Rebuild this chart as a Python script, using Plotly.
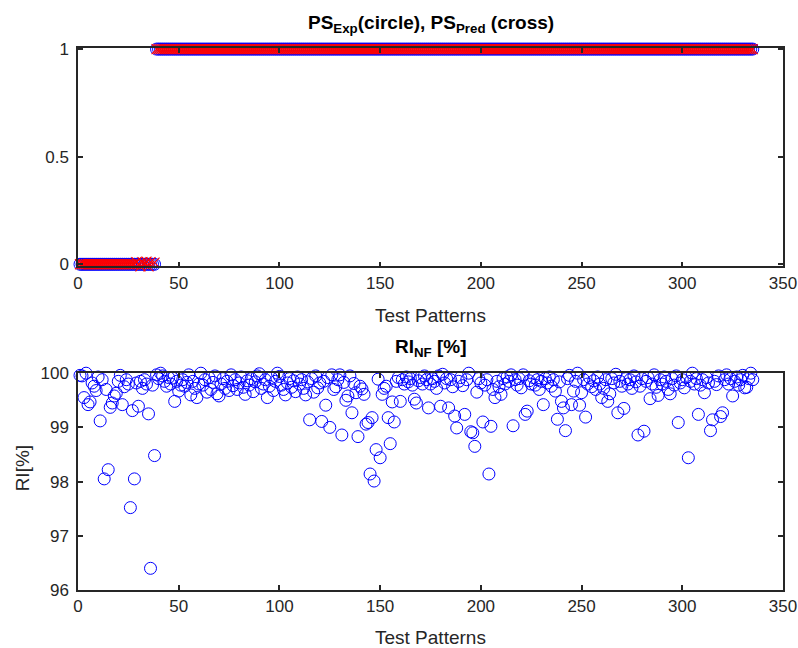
import plotly.graph_objects as go

# ---------------- data ----------------
patterns = list(range(1, 336))

ps_exp = [0] * 38 + [1] * 297

ps_pred = ([0] * 28 + [0.01, 0, -0.01, 0.01, 0, 0.012, -0.01, 0.01, -0.012, 0.008]
           + [1] * 297)

ri_nf = [
    99.96, 99.95, 99.55, 100.0, 99.42, 99.47, 99.82, 99.76, 99.68, 99.93,
    99.12, 99.88, 98.05, 99.70, 98.22, 99.37, 99.45, 99.58, 99.63, 99.85,
    99.96, 99.42, 99.75, 99.88, 99.80, 97.52, 99.31, 98.05, 99.82, 99.39,
    99.85, 99.72, 99.88, 99.80, 99.25, 96.40, 99.78, 98.48, 99.97, 99.90,
    100.0, 99.95, 99.85, 99.76, 99.92, 99.80, 99.91, 99.48, 99.85, 99.67,
    99.78, 99.88, 99.76, 99.83, 99.97, 99.60, 99.85, 99.72, 99.55, 99.80,
    100.0, 99.78, 99.88, 99.65, 99.92, 99.70, 99.83, 99.95, 99.62, 99.58,
    99.80, 99.90, 99.72, 99.85, 99.68, 99.97, 99.77, 99.88, 99.70, 99.82,
    99.93, 99.74, 99.61, 99.86, 99.78, 99.90, 99.66, 99.84, 99.95, 99.99,
    99.72, 99.80, 99.88, 99.55, 99.76, 99.92, 99.68, 99.85, 100.0, 99.94,
    99.78, 99.70, 99.60, 99.82, 99.90, 99.74, 99.86, 99.66, 99.93, 99.80,
    99.88, 99.72, 99.60, 99.84, 99.14, 99.90, 99.65, 99.95, 99.73, 99.82,
    99.11, 99.85, 99.41, 99.92, 99.00, 99.97, 99.70, 99.75, 99.88, 99.97,
    98.86, 99.83, 99.50, 99.58, 99.95, 99.27, 99.81, 99.64, 98.83, 99.76,
    99.71, 99.61, 99.06, 99.09, 98.14, 99.18, 98.01, 98.59, 99.89, 98.44,
    99.61, 99.72, 99.76, 99.18, 98.70, 99.47, 99.10, 99.85, 99.92, 99.48,
    99.88, 99.80, 99.93, 99.84, 99.90, 99.78, 99.52, 99.45, 99.86, 99.92,
    99.80, 99.95, 99.88, 99.36, 99.80, 99.90, 99.85, 99.72, 99.95, 99.39,
    99.98, 99.82, 99.90, 99.36, 99.88, 99.75, 99.21, 98.99, 99.85, 99.92,
    99.77, 99.24, 99.88, 100.0, 98.92, 98.90, 98.65, 99.65, 99.90, 99.82,
    99.10, 99.78, 99.88, 98.14, 99.02, 99.70, 99.55, 99.85, 99.75, 99.61,
    99.90, 99.80, 99.93, 99.85, 99.97, 99.03, 99.88, 99.78, 99.90, 99.73,
    99.97, 99.24, 99.30, 99.86, 99.80, 99.92, 99.78, 99.88, 99.70, 99.85,
    99.42, 99.90, 99.82, 99.93, 99.76, 99.88, 99.67, 99.15, 99.84, 99.48,
    99.36, 98.94, 99.90, 99.96, 99.42, 99.67, 99.85, 100.0, 99.41, 99.64,
    99.88, 99.19, 99.80, 99.92, 99.75, 99.86, 99.70, 99.93, 99.80, 99.55,
    99.72, 99.88, 99.48, 99.62, 99.90, 99.82, 99.98, 99.27, 99.85, 99.76,
    99.35, 99.90, 99.80, 99.88, 99.72, 99.95, 99.84, 98.86, 99.76, 99.90,
    98.93, 99.85, 99.92, 99.53, 99.80, 99.97, 99.74, 99.59, 99.88, 99.80,
    99.93, 99.85, 99.70, 99.62, 99.90, 99.78, 99.95, 99.09, 99.82, 99.88,
    99.73, 99.92, 98.44, 99.85, 100.0, 99.80, 99.90, 99.24, 99.78, 99.88,
    99.64, 99.92, 99.82, 98.94, 99.14, 99.85, 99.79, 99.95, 99.20, 99.27,
    99.88, 99.97, 99.80, 99.90, 99.58, 99.85, 99.93, 99.78, 99.88, 99.96,
    99.73, 99.74, 99.90, 100.0, 99.88,
]

x_ticks = [0, 50, 100, 150, 200, 250, 300, 350]
top_y_ticks = [0, 0.5, 1]
top_y_labels = ["0", "0.5", "1"]
bot_y_ticks = [96, 97, 98, 99, 100]

# ---------------- figure ----------------
BLUE = "#0000FF"
RED = "#FF0000"
AX = "#262626"
FONT = "Liberation Sans, Arial, sans-serif"

fig = go.Figure()

fig.add_trace(go.Scatter(
    x=patterns, y=ps_exp, mode="markers", xaxis="x", yaxis="y",
    marker=dict(symbol="circle-open", size=12, color=BLUE, line=dict(width=1, color=BLUE)),
    cliponaxis=False, showlegend=False))
fig.add_trace(go.Scatter(
    x=patterns, y=ps_pred, mode="markers", xaxis="x", yaxis="y",
    marker=dict(symbol="x-thin-open", size=10, color=RED, line=dict(width=1.2, color=RED)),
    cliponaxis=False, showlegend=False))
fig.add_trace(go.Scatter(
    x=patterns, y=ri_nf, mode="markers", xaxis="x2", yaxis="y2",
    marker=dict(symbol="circle-open", size=12, color=BLUE, line=dict(width=1, color=BLUE)),
    cliponaxis=False, showlegend=False))

axis_common = dict(
    showline=True, linecolor=AX, linewidth=1.5, mirror="ticks",
    ticks="inside", ticklen=5, tickwidth=1.5, tickcolor=AX,
    showgrid=False, zeroline=False, automargin=False,
    tickfont=dict(family=FONT, size=17, color=AX),
)

fig.update_layout(
    width=798, height=648,
    margin=dict(l=78, r=15, t=48, b=58, autoexpand=False),
    paper_bgcolor="white", plot_bgcolor="white",
    font=dict(family=FONT, color=AX),
    xaxis=dict(domain=[0, 1], anchor="y", range=[0, 350], tickvals=x_ticks, **axis_common),
    yaxis=dict(domain=[0.597, 1], anchor="x", range=[-0.01, 1.005], ticklabelstandoff=4,
               tickvals=top_y_ticks, ticktext=top_y_labels, **axis_common),
    xaxis2=dict(domain=[0, 1], anchor="y2", range=[0, 350], tickvals=x_ticks, **axis_common),
    yaxis2=dict(domain=[0, 0.4], anchor="x2", range=[96, 100], ticklabelstandoff=4,
                tickvals=bot_y_ticks, **axis_common),
)

ann = []
ann.append(dict(text="<b>PS<sub>Exp</sub>(circle), PS<sub>Pred</sub> (cross)</b>",
                x=0.5, y=1.045, xref="paper", yref="paper", showarrow=False,
                font=dict(family=FONT, size=19, color="black"), yanchor="middle"))
ann.append(dict(text="<b>RI<sub>NF</sub> [%]</b>",
                x=0.5, y=0.446, xref="paper", yref="paper", showarrow=False,
                font=dict(family=FONT, size=19, color="black"), yanchor="middle"))
ann.append(dict(text="Test Patterns", x=0.5, y=0.506, xref="paper", yref="paper",
                showarrow=False, font=dict(family=FONT, size=19, color=AX), yanchor="middle"))
ann.append(dict(text="Test Patterns", x=0.5, y=-0.087, xref="paper", yref="paper",
                showarrow=False, font=dict(family=FONT, size=19, color=AX), yanchor="middle"))
ann.append(dict(text="RI[%]", x=-0.079, y=0.225, xref="paper", yref="paper", textangle=-90,
                showarrow=False, font=dict(family=FONT, size=19, color=AX),
                xanchor="center", yanchor="middle"))
fig.update_layout(annotations=ann)

fig.write_html("out.html",
               config={"displayModeBar": False},
               post_script="document.body.style.margin='0';document.body.style.overflow='hidden';")
